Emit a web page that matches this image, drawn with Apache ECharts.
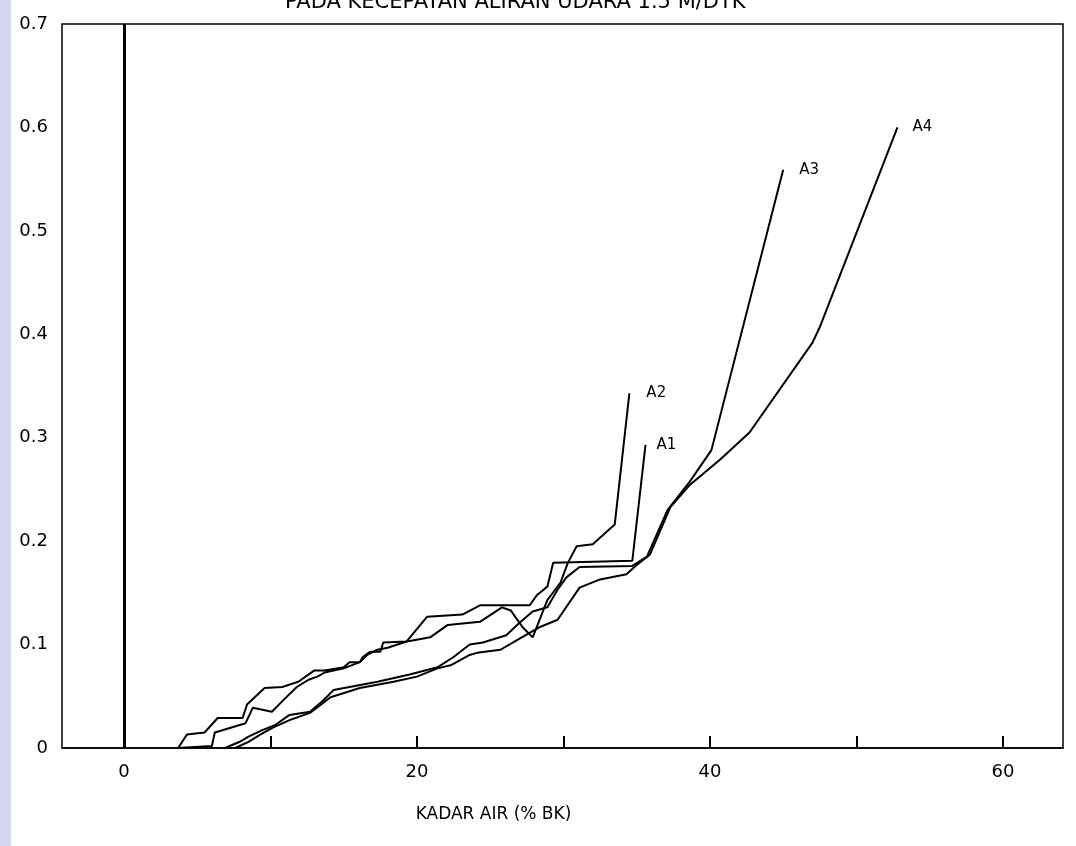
<!DOCTYPE html>
<html>
<head>
<meta charset="utf-8">
<script src="https://cdn.jsdelivr.net/npm/echarts@6/dist/echarts.min.js"></script>
<style>
  html, body { margin: 0; padding: 0; background: #fff; }
  #strip { position: absolute; left: 0; top: 0; width: 11px; height: 846px; background: #d3d6ec; }
  #chart { position: absolute; left: 0; top: 0; width: 1076px; height: 846px; }
</style>
</head>
<body>
<div id="strip"></div>
<div id="chart"></div>
<script>
// Moisture content (% dry basis) and drying rate for the four samples
const a1x = [3.7, 4.3, 5.5, 6.4, 8.1, 8.4, 9.6, 10.8, 11.9, 13.0, 13.7, 15.0, 15.4, 16.1, 16.3, 16.8, 17.5, 17.7, 19.3, 20.7, 23.1, 24.3, 27.7, 28.2, 28.9, 29.3, 34.7, 35.6];
const a1y = [0, 0.013, 0.015, 0.029, 0.029, 0.042, 0.058, 0.059, 0.064, 0.075, 0.075, 0.078, 0.083, 0.083, 0.088, 0.093, 0.093, 0.102, 0.103, 0.127, 0.129, 0.138, 0.138, 0.148, 0.156, 0.179, 0.181, 0.293];

const a2x = [3.7, 6.0, 6.2, 8.3, 8.8, 10.1, 11.0, 11.8, 12.6, 13.2, 13.7, 15.0, 16.1, 16.6, 17.3, 18.0, 19.3, 19.7, 20.9, 22.1, 24.3, 25.8, 26.4, 27.2, 27.9, 28.9, 29.8, 30.3, 30.9, 32.0, 33.5, 34.5];
const a2y = [0, 0.002, 0.015, 0.024, 0.039, 0.035, 0.048, 0.059, 0.066, 0.069, 0.073, 0.077, 0.083, 0.090, 0.095, 0.097, 0.103, 0.104, 0.107, 0.119, 0.122, 0.136, 0.133, 0.117, 0.107, 0.143, 0.160, 0.179, 0.195, 0.197, 0.216, 0.343];

const a3x = [6.9, 7.9, 8.5, 9.4, 10.3, 11.3, 12.7, 13.6, 14.3, 15.4, 17.3, 19.5, 21.4, 22.5, 23.6, 24.5, 26.1, 27.0, 27.9, 28.9, 29.6, 30.2, 31.1, 34.7, 35.7, 37.1, 38.6, 40.1, 45.0];
const a3y = [0, 0.006, 0.011, 0.017, 0.022, 0.032, 0.035, 0.046, 0.056, 0.059, 0.064, 0.071, 0.078, 0.088, 0.100, 0.102, 0.109, 0.121, 0.132, 0.136, 0.153, 0.165, 0.175, 0.176, 0.185, 0.230, 0.257, 0.288, 0.559];

const a4x = [7.6, 8.5, 9.3, 10.2, 11.3, 12.7, 14.1, 16.1, 18.4, 20.0, 21.4, 22.3, 23.6, 24.1, 25.7, 26.8, 28.4, 29.6, 31.1, 32.5, 34.3, 35.0, 35.9, 37.3, 38.6, 40.7, 42.7, 47.0, 47.5, 52.8];
const a4y = [0, 0.006, 0.013, 0.020, 0.027, 0.034, 0.049, 0.058, 0.064, 0.069, 0.077, 0.080, 0.090, 0.092, 0.095, 0.104, 0.117, 0.124, 0.155, 0.163, 0.168, 0.177, 0.187, 0.233, 0.254, 0.279, 0.305, 0.392, 0.407, 0.600];

const seriesNames = ['A1', 'A2', 'A3', 'A4'];
const xLabelValues = [0, 20, 40, 60];
const xTickValues = [10, 20, 30, 40, 50, 60];
const yTickValues = [0, 0.1, 0.2, 0.3, 0.4, 0.5, 0.6, 0.7];

const titleText = 'PADA KECEPATAN ALIRAN UDARA 1.5 M/DTK';
const xAxisName = 'KADAR AIR (% BK)';

const FONT = 'DejaVu Sans';
const curves = [
  { name: seriesNames[0], x: a1x, y: a1y, gap: 11 },
  { name: seriesNames[1], x: a2x, y: a2y, gap: 17 },
  { name: seriesNames[2], x: a3x, y: a3y, gap: 16 },
  { name: seriesNames[3], x: a4x, y: a4y, gap: 15 }
];

const pairs = (xs, ys) => xs.map((v, i) => [v, ys[i]]);

const series = curves.map((c, i) => ({
  name: c.name,
  type: 'line',
  data: pairs(c.x, c.y),
  showSymbol: false,
  symbol: 'none',
  silent: true,
  lineStyle: { color: '#000', width: 2 },
  endLabel: {
    show: true,
    formatter: '{a}',
    color: '#000',
    fontFamily: FONT,
    fontSize: 15,
    distance: c.gap
  },
  // vertical reference line at zero moisture
  markLine: i === 0 ? {
    symbol: 'none',
    silent: true,
    label: { show: false },
    lineStyle: { color: '#000', width: 3, type: 'solid' },
    data: [{ xAxis: 0 }]
  } : undefined
}));

const chart = echarts.init(document.getElementById('chart'), null, { renderer: 'canvas' });
chart.setOption({
  animation: false,
  title: {
    text: titleText,
    left: 285,
    top: -8,
    padding: 0,
    textStyle: { fontFamily: FONT, fontSize: 21, fontWeight: 'normal', color: '#000' }
  },
  grid: {
    left: 62, top: 24, right: 13, bottom: 98,
    show: true, borderColor: '#000', borderWidth: 1.5, backgroundColor: 'transparent'
  },
  xAxis: {
    type: 'value',
    min: -4.23,
    max: 64.1,
    name: xAxisName,
    nameLocation: 'middle',
    nameGap: 58,
    nameTextStyle: { fontFamily: FONT, fontSize: 17, color: '#000', padding: [0, 138, 0, 0] },
    axisLine: { show: true, onZero: false, lineStyle: { color: '#000', width: 1.5 } },
    axisTick: { show: true, inside: true, length: 12, customValues: xTickValues, lineStyle: { color: '#000', width: 2 } },
    axisLabel: { customValues: xLabelValues, margin: 15, fontFamily: FONT, fontSize: 18, color: '#000' },
    splitLine: { show: false }
  },
  yAxis: {
    type: 'value',
    min: yTickValues[0],
    max: yTickValues[yTickValues.length - 1],
    interval: 0.1,
    axisLine: { show: false, onZero: false },
    axisTick: { show: false },
    splitLine: { show: false },
    axisLabel: {
      margin: 14,
      fontFamily: FONT, fontSize: 18, color: '#000',
      formatter: v => (v === 0 ? '0' : v.toFixed(1))
    }
  },
  series: series
});
</script>
</body>
</html>
